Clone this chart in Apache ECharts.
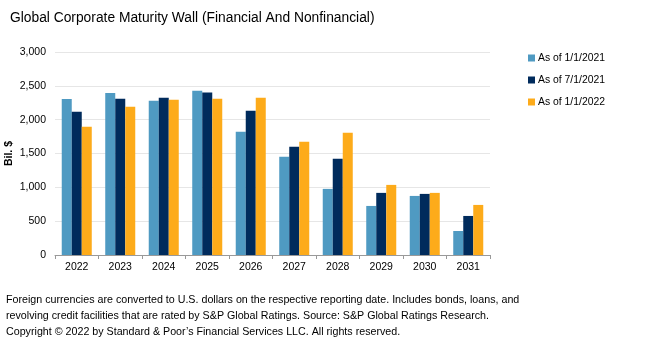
<!DOCTYPE html>
<html><head><meta charset="utf-8">
<script src="https://cdn.jsdelivr.net/npm/echarts@6/dist/echarts.min.js"></script>
<style>html,body{margin:0;padding:0;background:#fff;}#c{width:669px;height:352px;}</style>
</head><body><div id="c"></div>
<script>
const categories = ['2022','2023','2024','2025','2026','2027','2028','2029','2030','2031'];
const seriesNames = ['As of 1/1/2021','As of 7/1/2021','As of 1/1/2022'];
const s2021a = [2304, 2393, 2280, 2428, 1821, 1451, 977, 725, 873, 355];
const s2021b = [2117, 2309, 2324, 2403, 2131, 1599, 1421, 918, 903, 577];
const s2022a = [1895, 2191, 2294, 2309, 2324, 1673, 1806, 1036, 918, 740];
const colors = ['#4f9ac2', '#002b5c', '#fdab1a'];
const yTicks = [0, 500, 1000, 1500, 2000, 2500, 3000];
const noteLines = [
 'Foreign currencies are converted to U.S. dollars on the respective reporting date. Includes bonds, loans, and',
 'revolving credit facilities that are rated by S&P Global Ratings. Source: S&P Global Ratings Research.',
 'Copyright \u00a9 2022 by Standard & Poor\u2019s Financial Services LLC. All rights reserved.'
];
const font = 'Liberation Sans, Arial, sans-serif';
const chart = echarts.init(document.getElementById('c'), null, {renderer:'canvas'});
const data = [s2021a, s2021b, s2022a];
chart.setOption({
  animation:false,
  backgroundColor:'#fff',
  title:{text:'Global Corporate Maturity Wall (Financial And Nonfinancial)', left:5, top:6,
    textStyle:{fontFamily:font, fontSize:13.8, fontWeight:'normal', color:'#000'}},
  legend:{orient:'vertical', left:523, top:48, itemGap:12, itemWidth:7, itemHeight:7, icon:'rect',
    textStyle:{fontFamily:font, fontSize:10.4, color:'#000', padding:[0,0,0,-2]},
    data:seriesNames},
  grid:{left:55, right:179, top:52, bottom:97, containLabel:false, outerBoundsMode:'none'},
  xAxis:{type:'category', data:categories,
    axisLine:{lineStyle:{color:'#999'}},
    axisTick:{show:true, lineStyle:{color:'#999'}, length:4},
    axisLabel:{fontFamily:font, fontSize:10.5, color:'#000', margin:7}},
  yAxis:{type:'value', min:0, max:3000, interval:500,
    name:'Bil. $', nameLocation:'middle', nameGap:40, nameRotate:90, nameMoveOverlap:false,
    nameTextStyle:{fontFamily:font, fontSize:10.5, fontWeight:'bold', color:'#000'},
    axisLabel:{fontFamily:font, fontSize:10.5, color:'#000', margin:9,
      formatter:v=>v.toLocaleString('en-US')},
    splitLine:{lineStyle:{color:'#e6e6e6'}},
    axisLine:{show:false}, axisTick:{show:false}},
  series: seriesNames.map((n,i)=>({name:n, type:'bar', data:data[i], barGap:'0%', barCategoryGap:'31%',
    itemStyle:{color:colors[i]}})),
  graphic: noteLines.map((t,i)=>({type:'text', left:6, top:295+i*16,
    style:{text:t, font:'10.7px '+font, fill:'#000'}}))
});
</script></body></html>
